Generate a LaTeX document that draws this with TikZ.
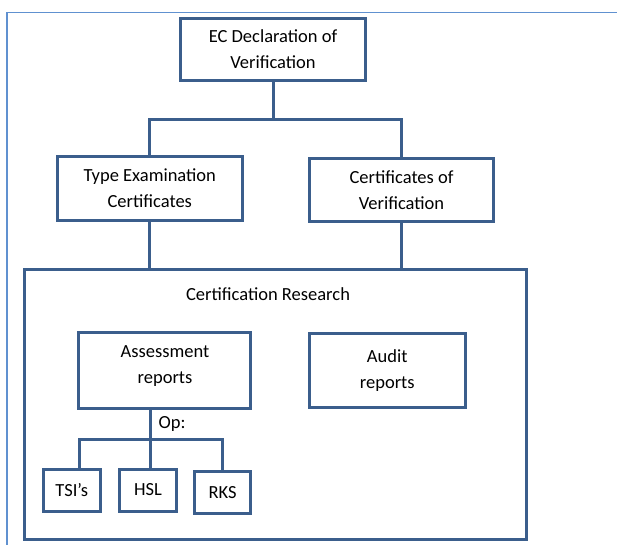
\documentclass[tikz,border=0pt]{standalone}
\usepackage{fontspec}
\setmainfont{Carlito}
\definecolor{boxblue}{RGB}{59,94,140}
\definecolor{frameblue}{RGB}{96,145,208}
\begin{document}
\begin{tikzpicture}[x=1pt,y=-1pt,
  box/.style={draw=boxblue, line width=3pt, inner sep=0pt, align=center,
    font=\fontsize{18.5}{26}\selectfont, text=black},
  conn/.style={draw=boxblue, line width=3pt},
  lbl/.style={inner sep=0pt, align=center, font=\fontsize{18.5}{26}\selectfont, text=black}]
\useasboundingbox (0,0) rectangle (617,545);
\fill[white] (0,0) rectangle (617,545);
% page frame
\draw[frameblue, line width=1.6pt] (617,12.7) -- (7,12.7) -- (7,545);
% boxes
\node[box, minimum width=185pt, minimum height=62pt] (ec) at (273,49.5) {EC Declaration of\\Verification};
\node[box, minimum width=185.5pt, minimum height=64pt] (type) at (149.75,188.5) {Type Examination\\Certificates};
\node[box, minimum width=184pt, minimum height=63pt] (cert) at (401.5,190) {Certificates of\\Verification};
\node[box, minimum width=501.5pt, minimum height=270pt] (outer) at (275.25,404.5) {};
\node[lbl] (cr) at (268,294) {Certification Research};
\node[box, minimum width=172pt, minimum height=76pt] (assess) at (164.5,370.5) {};
\node[lbl] (assesstext) at (165,366) {Assessment\\reports};
\node[box, minimum width=155.5pt, minimum height=74pt] (audit) at (387.25,370.5) {Audit\\reports};
\node[box, minimum width=56.5pt, minimum height=42pt] (tsi) at (71.75,490.5) {\raisebox{2pt}{TSI’s}};
\node[box, minimum width=57pt, minimum height=42pt] (hsl) at (148,490.5) {\raisebox{2pt}{HSL}};
\node[box, minimum width=56pt, minimum height=42pt] (rks) at (222.5,492.5) {RKS};
\node[lbl, anchor=west] (op) at (158.5,424) {Op:};
% connectors
\coordinate (j1) at (273,120);
\coordinate (j2) at (150,439);
\coordinate (t1) at (79,439);
\draw[conn] (ec.south) -- (j1);
\draw[conn] (type.north) |- (j1) -| (cert.north);
\draw[conn] (type.south) -- (type.south |- outer.north);
\draw[conn] (cert.south) -- (cert.south |- outer.north);
\draw[conn] (assess.south -| j2) -- (j2);
\draw[conn] (t1 |- tsi.north) -- (t1) -- (j2 -| rks.north) -- (rks.north);
\draw[conn] (j2) -- (j2 |- hsl.north);
\end{tikzpicture}
\end{document}
